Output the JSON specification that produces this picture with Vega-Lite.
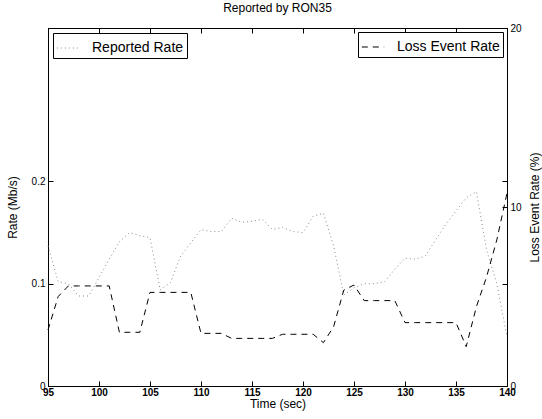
{
  "$schema": "https://vega.github.io/schema/vega-lite/v6.json",
  "autosize": {"type": "none"},
  "padding": {"left": 48, "top": 28, "right": 35, "bottom": 33},
  "width": 459,
  "height": 358,
  "background": "white",
  "title": {"text": "Reported by RON35", "fontSize": 12, "fontWeight": "normal", "font": "Liberation Sans", "offset": 8},
  "config": {
    "view": {"stroke": "black", "strokeWidth": 1},
    "font": "Liberation Sans",
    "axis": {"grid": false, "domainColor": "black", "tickColor": "black", "labelColor": "black", "titleColor": "black", "titleFontWeight": "normal", "titleFontSize": 12, "labelFontSize": 10, "tickSize": -5, "domainWidth": 1},
    "legend": {"strokeColor": "black", "fillColor": "white", "padding": 3, "labelFontSize": 14, "symbolType": "stroke", "symbolSize": 500, "symbolStrokeWidth": 1, "labelOffset": 12, "titleFontSize": 0}
  },
  "data": {"values": [
    {"t": 95, "rate": 0.137, "loss": 3.13},
    {"t": 96, "rate": 0.102, "loss": 5.0},
    {"t": 97, "rate": 0.100, "loss": 5.59},
    {"t": 98, "rate": 0.088, "loss": 5.59},
    {"t": 99, "rate": 0.088, "loss": 5.59},
    {"t": 100, "rate": 0.106, "loss": 5.59},
    {"t": 101, "rate": 0.124, "loss": 5.59},
    {"t": 102, "rate": 0.141, "loss": 3.0},
    {"t": 103, "rate": 0.150, "loss": 3.0},
    {"t": 104, "rate": 0.147, "loss": 3.0},
    {"t": 105, "rate": 0.145, "loss": 5.23},
    {"t": 106, "rate": 0.094, "loss": 5.23},
    {"t": 107, "rate": 0.101, "loss": 5.23},
    {"t": 108, "rate": 0.127, "loss": 5.23},
    {"t": 109, "rate": 0.140, "loss": 5.23},
    {"t": 110, "rate": 0.153, "loss": 2.94},
    {"t": 111, "rate": 0.151, "loss": 2.94},
    {"t": 112, "rate": 0.151, "loss": 2.94},
    {"t": 113, "rate": 0.164, "loss": 2.66},
    {"t": 114, "rate": 0.160, "loss": 2.66},
    {"t": 115, "rate": 0.161, "loss": 2.66},
    {"t": 116, "rate": 0.163, "loss": 2.66},
    {"t": 117, "rate": 0.153, "loss": 2.66},
    {"t": 118, "rate": 0.155, "loss": 2.89},
    {"t": 119, "rate": 0.151, "loss": 2.89},
    {"t": 120, "rate": 0.150, "loss": 2.89},
    {"t": 121, "rate": 0.166, "loss": 2.89},
    {"t": 122, "rate": 0.169, "loss": 2.42},
    {"t": 123, "rate": 0.137, "loss": 3.31},
    {"t": 124, "rate": 0.089, "loss": 5.36},
    {"t": 125, "rate": 0.096, "loss": 5.64},
    {"t": 126, "rate": 0.100, "loss": 4.77},
    {"t": 127, "rate": 0.100, "loss": 4.77},
    {"t": 128, "rate": 0.102, "loss": 4.77},
    {"t": 129, "rate": 0.114, "loss": 4.77},
    {"t": 130, "rate": 0.125, "loss": 3.54},
    {"t": 131, "rate": 0.124, "loss": 3.54},
    {"t": 132, "rate": 0.127, "loss": 3.54},
    {"t": 133, "rate": 0.143, "loss": 3.54},
    {"t": 134, "rate": 0.158, "loss": 3.54},
    {"t": 135, "rate": 0.171, "loss": 3.54},
    {"t": 136, "rate": 0.184, "loss": 2.2},
    {"t": 137, "rate": 0.190, "loss": 4.43},
    {"t": 138, "rate": 0.133, "loss": 6.1},
    {"t": 139, "rate": 0.100, "loss": 8.16},
    {"t": 140, "rate": 0.048, "loss": 10.77}
  ]},
  "layer": [
    {
      "mark": {"type": "line", "color": "#8a8a8a", "strokeWidth": 1},
      "encoding": {
        "x": {"field": "t", "type": "quantitative", "scale": {"domain": [95, 140], "nice": false},
              "axis": {"title": "Time (sec)", "values": [95, 100, 105, 110, 115, 120, 125, 130, 135, 140], "labelFontWeight": "bold", "labelPadding": 6, "titlePadding": 1, "labelFlush": false}},
        "y": {"field": "rate", "type": "quantitative", "scale": {"domain": [0, 0.35], "nice": false},
              "axis": {"title": "Rate (Mb/s)", "orient": "left", "values": [0, 0.1, 0.2], "format": ".1~f", "labelPadding": 8, "titlePadding": 12}},
        "strokeDash": {"datum": "Reported Rate", "scale": {"range": [[1, 3]]},
                       "legend": {"orient": "top-left", "offset": 5, "title": null, "symbolStrokeColor": "#8a8a8a", "symbolDash": [1, 2]}}
      }
    },
    {
      "mark": {"type": "line", "color": "black", "strokeWidth": 1},
      "encoding": {
        "x": {"field": "t", "type": "quantitative", "scale": {"domain": [95, 140], "nice": false},
              "axis": {"orient": "top", "title": null, "labels": false, "values": [95, 100, 105, 110, 115, 120, 125, 130, 135, 140]}},
        "y": {"field": "loss", "type": "quantitative", "scale": {"domain": [0, 20], "nice": false},
              "axis": {"title": "Loss Event Rate (%)", "titleAngle": 270, "orient": "right", "values": [0, 5.714, 10, 11.43, 20], "labelExpr": "datum.value == 0 || datum.value == 10 || datum.value == 20 ? datum.label : ''", "labelPadding": 8, "titlePadding": 20}},
        "strokeDash": {"datum": "Loss Event Rate", "scale": {"range": [[6, 5]]},
                       "legend": {"orient": "top-right", "offset": 4, "title": null, "symbolStrokeColor": "black", "symbolDash": [4, 4]}}
      }
    }
  ],
  "resolve": {"scale": {"y": "independent", "strokeDash": "independent"}, "axis": {"x": "independent"}}
}
